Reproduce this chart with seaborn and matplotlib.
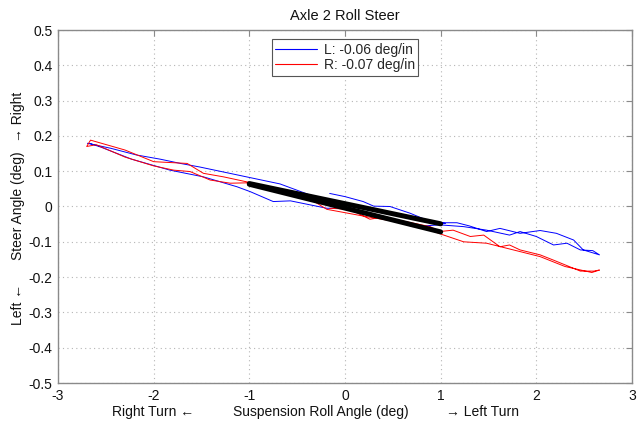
import numpy as np
import pandas as pd
import matplotlib
matplotlib.use("Agg")
import matplotlib.pyplot as plt
from matplotlib.lines import Line2D
import seaborn as sns

# ---- data ----
L_x = [-0.16, 0.00, 0.19, 0.30, 0.47, 0.68, 0.85, 1.00, 1.17, 1.30, 1.48, 1.62, 1.83, 2.04, 2.21, 2.39, 2.49, 2.66,
       2.59, 2.46, 2.32, 2.18, 2.00, 1.83, 1.72, 1.48, 1.24, 0.99, 0.71, 0.30, 0.05, -0.19, -0.57, -0.75, -0.99,
       -1.13, -1.48, -1.83, -2.23, -2.55, -2.66,
       -2.69, -2.45, -2.18, -1.93, -1.72, -1.52, -1.03, -0.68, -0.37, 0.05, 0.40, 0.85, 1.05]
L_y = [0.037, 0.028, 0.014, 0.001, 0.000, -0.019, -0.038, -0.046, -0.046, -0.055, -0.071, -0.062, -0.076, -0.068,
       -0.076, -0.095, -0.123, -0.137,
       -0.125, -0.123, -0.104, -0.109, -0.085, -0.071, -0.081, -0.067, -0.057, -0.052, -0.057, -0.024, -0.005,
       -0.005, 0.016, 0.014, 0.042, 0.056, 0.084, 0.103, 0.134, 0.168, 0.178,
       0.179, 0.165, 0.146, 0.134, 0.122, 0.112, 0.084, 0.064, 0.033, 0.000, -0.015, -0.043, -0.048]

R_x = [-0.16, 0.05, 0.26, 0.40, 0.64, 0.89, 0.99, 1.13, 1.31, 1.45, 1.62, 1.72, 1.83, 2.04, 2.18, 2.46, 2.60, 2.66,
       2.58, 2.30, 2.04, 1.76, 1.48, 1.24, 1.00, 0.85, 0.54, 0.23, -0.19, -0.47, -0.57, -1.03, -1.20, -1.41,
       -1.62, -1.79, -2.00, -2.30, -2.60, -2.70,
       -2.66, -2.30, -2.00, -1.65, -1.48, -1.27, -1.03, -0.70, -0.35, 0.00]
R_y = [-0.005, -0.008, -0.036, -0.030, -0.043, -0.057, -0.071, -0.067, -0.085, -0.081, -0.114, -0.109, -0.123,
       -0.137, -0.152, -0.183, -0.183, -0.180,
       -0.187, -0.170, -0.142, -0.123, -0.104, -0.100, -0.078, -0.062, -0.043, -0.029, -0.008, 0.039, 0.037,
       0.067, 0.066, 0.075, 0.099, 0.103, 0.115, 0.140, 0.175, 0.170,
       0.188, 0.160, 0.127, 0.122, 0.094, 0.084, 0.070, 0.048, 0.022, 0.002]

fit_x = [-1.0, 1.0]
fit_L = [0.065, -0.049]
fit_R = [0.063, -0.072]

labels = ["L: -0.06 deg/in", "R: -0.07 deg/in"]
x_ticks = [-3, -2, -1, 0, 1, 2, 3]
y_ticks = [-0.5, -0.4, -0.3, -0.2, -0.1, 0, 0.1, 0.2, 0.3, 0.4, 0.5]
y_ticklabels = ["-0.5", "-0.4", "-0.3", "-0.2", "-0.1", "0", "0.1", "0.2", "0.3", "0.4", "0.5"]
x_ticklabels = ["-3", "-2", "-1", "0", "1", "2", "3"]

# ---- plot ----
sns.set_style("white")
plt.rcParams["font.family"] = ["Liberation Sans", "DejaVu Sans"]
plt.rcParams["axes.unicode_minus"] = False

fig = plt.figure(figsize=(6.37, 4.23), dpi=100)
ax = fig.add_axes([58 / 637, 40 / 423, (632 - 58) / 637, (383 - 30) / 423])

BLUE, RED = "#0000ff", "#ff0000"
dfL = pd.DataFrame({"x": L_x, "y": L_y})
dfR = pd.DataFrame({"x": R_x, "y": R_y})
sns.lineplot(data=dfL, x="x", y="y", sort=False, estimator=None, color=BLUE, lw=0.7, ax=ax, legend=False)
sns.lineplot(data=dfR, x="x", y="y", sort=False, estimator=None, color=RED, lw=0.7, ax=ax, legend=False)
sns.lineplot(x=fit_x, y=fit_L, sort=False, estimator=None, color="black", lw=3.6, ax=ax, legend=False)
sns.lineplot(x=fit_x, y=fit_R, sort=False, estimator=None, color="black", lw=3.6, ax=ax, legend=False)

ax.set_xlim(-3, 3)
ax.set_ylim(-0.5, 0.5)
ax.set_xticks(x_ticks)
ax.set_xticklabels(x_ticklabels)
ax.set_yticks(y_ticks)
ax.set_yticklabels(y_ticklabels)
ax.set_xlabel("")
ax.set_ylabel("")

edge = "#8a8a8a"
for s in ax.spines.values():
    s.set_color(edge)
    s.set_linewidth(1.0)
ax.tick_params(direction="in", length=4, width=0.8, color=edge, top=True, right=True,
               labelsize=10, labelcolor="#111111", pad=4)
ax.grid(True, color="#b5b5b5", linestyle=(0, (1, 3)), linewidth=0.8)
ax.set_axisbelow(True)

ax.set_title("Axle 2 Roll Steer", fontsize=10.5, pad=7, color="#111111")

handles = [Line2D([], [], color=BLUE, lw=0.8), Line2D([], [], color=RED, lw=0.8)]
leg = ax.legend(handles, labels, loc="upper center", bbox_to_anchor=(0.5, 0.985), fontsize=10,
                frameon=True, fancybox=False, framealpha=1, edgecolor="#555555", handlelength=3.0,
                borderpad=0.25, labelspacing=0.1, handletextpad=0.5, borderaxespad=0.3)
leg.get_frame().set_linewidth(0.8)

# axis labels as separate texts
tc = "#111111"
fig.text(321 / 637, 1 - 412 / 423, "Suspension Roll Angle (deg)", ha="center", va="center", fontsize=10, color=tc)
fig.text(153 / 637, 1 - 412 / 423, "Right Turn \u2190", ha="center", va="center", fontsize=10, color=tc)
fig.text(483 / 637, 1 - 412 / 423, "\u2192 Left Turn", ha="center", va="center", fontsize=10, color=tc)
fig.text(18 / 637, 1 - 206 / 423, "Steer Angle (deg)", ha="center", va="center", rotation=90, fontsize=10, color=tc)
fig.text(18 / 637, 1 - 304 / 423, "Left \u2190", ha="center", va="center", rotation=90, fontsize=10, color=tc)
fig.text(18 / 637, 1 - 117 / 423, "\u2192 Right", ha="center", va="center", rotation=90, fontsize=10, color=tc)

fig.savefig("out.png", dpi=100, facecolor="white")
